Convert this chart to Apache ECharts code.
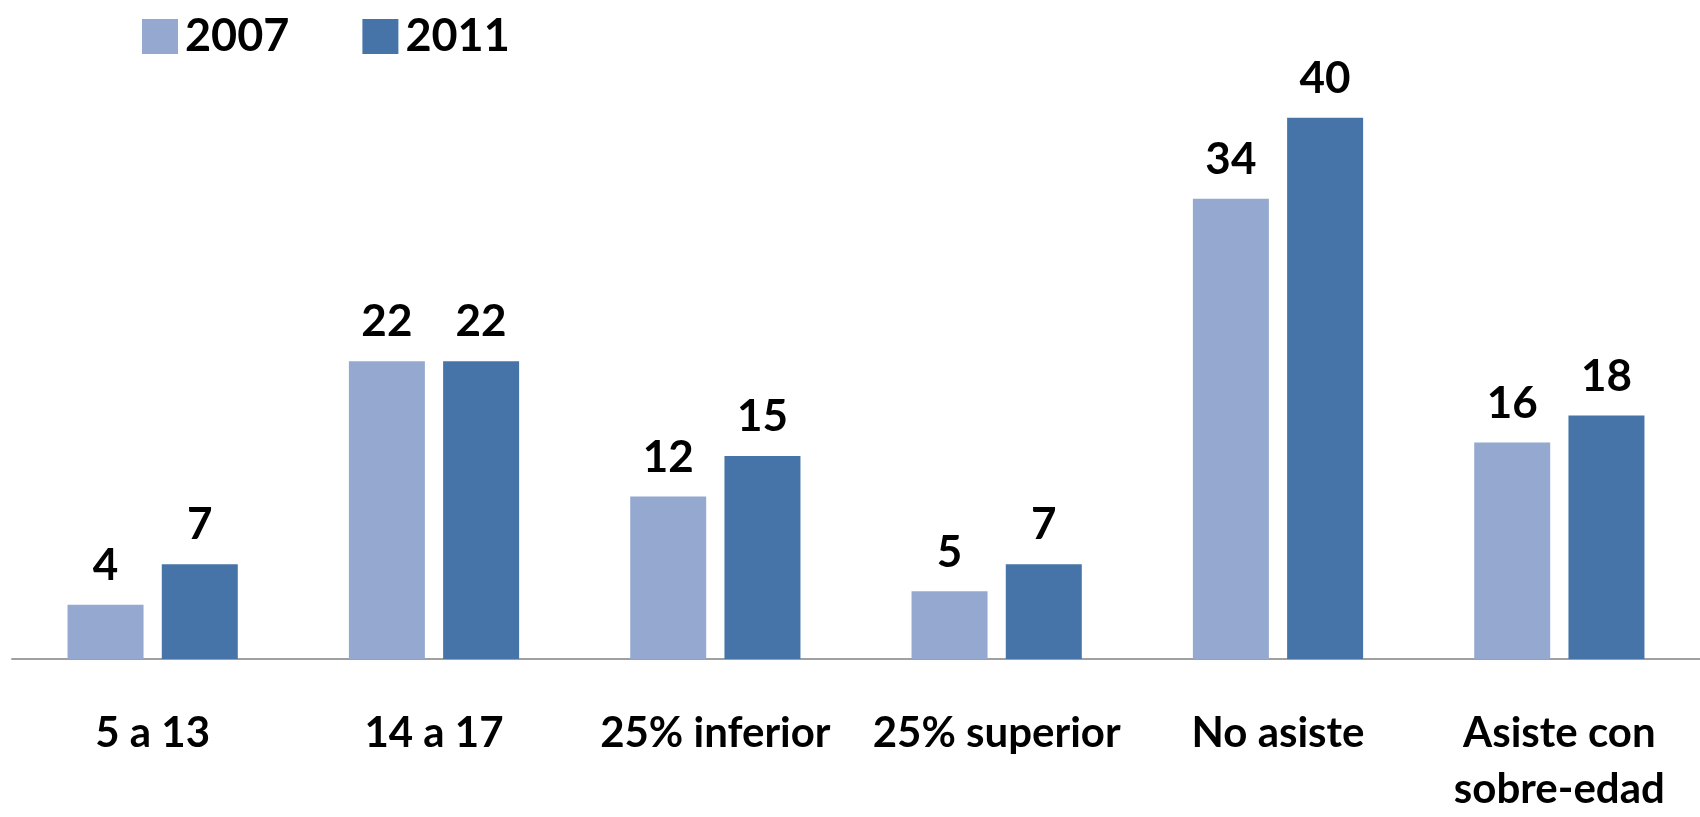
<!DOCTYPE html>
<html>
<head>
<meta charset="utf-8">
<script src="https://cdn.jsdelivr.net/npm/echarts@6/dist/echarts.min.js"></script>
<style>
  html, body { margin: 0; padding: 0; background: #ffffff; }
  #chart { width: 1700px; height: 817px; }
</style>
</head>
<body>
<div id="chart"></div>
<script>
// Categories along the x axis
const categories = ['5 a 13', '14 a 17', '25% inferior', '25% superior', 'No asiste', 'Asiste con\nsobre-edad'];
// Series values (percentages)
const values2007 = [4, 22, 12, 5, 34, 16];
const values2011 = [7, 22, 15, 7, 40, 18];
const seriesNames = ['2007', '2011'];

const FONT = 'Lato, "Open Sans", sans-serif';
const colors = ['#95A9D0', '#4674A8'];

const labelStyle = {
  show: true,
  position: 'top',
  distance: 17,
  fontFamily: FONT,
  fontWeight: 'bold',
  fontSize: 44,
  color: '#000000'
};

const chart = echarts.init(document.getElementById('chart'), null, { renderer: 'canvas' });
chart.setOption({
  animation: false,
  backgroundColor: '#ffffff',
  color: colors,
  legend: {
    data: seriesNames,
    left: 137,
    top: 9,
    icon: 'rect',
    itemWidth: 36,
    itemHeight: 35,
    itemGap: 73,
    textStyle: {
      fontFamily: FONT,
      fontWeight: 'bold',
      fontSize: 45,
      color: '#000000',
      padding: [0, 0, 0, 2]
    }
  },
  grid: {
    left: 12,
    right: 0,
    top: 50,
    bottom: 157,
    containLabel: false
  },
  xAxis: {
    type: 'category',
    data: categories,
    axisLine: { lineStyle: { color: '#A0A0A0', width: 2 } },
    axisTick: { show: false },
    axisLabel: {
      interval: 0,
      margin: 46,
      fontFamily: FONT,
      fontWeight: 'bold',
      fontSize: 42,
      lineHeight: 56,
      color: '#000000'
    }
  },
  yAxis: {
    type: 'value',
    min: 0,
    max: 45,
    show: false,
    splitLine: { show: false }
  },
  series: [
    {
      name: seriesNames[0],
      type: 'bar',
      data: values2007,
      barWidth: 76,
      barGap: '24%',
      label: labelStyle
    },
    {
      name: seriesNames[1],
      type: 'bar',
      data: values2011,
      barWidth: 76,
      barGap: '24%',
      label: labelStyle
    }
  ]
});
</script>
</body>
</html>
